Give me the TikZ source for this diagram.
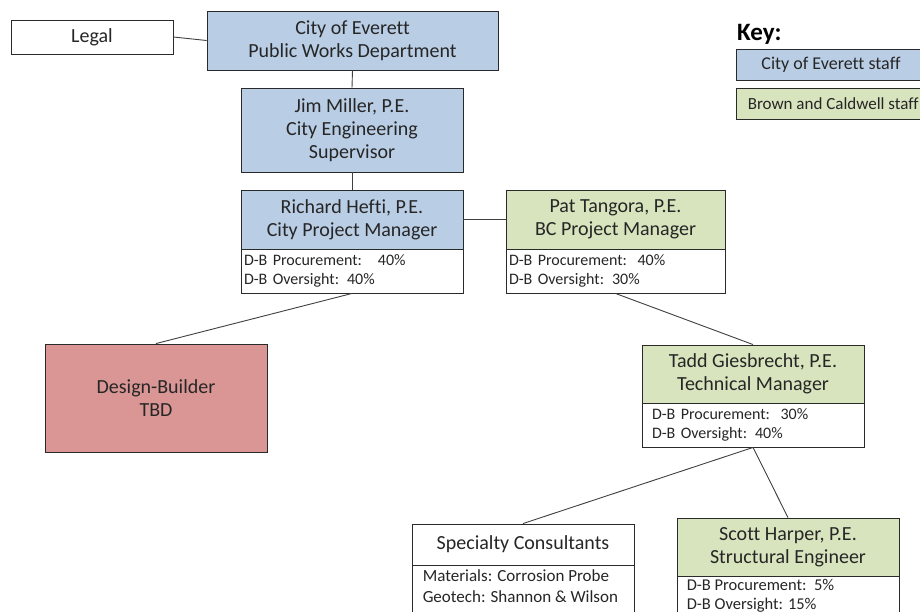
\documentclass[tikz,border=0pt]{standalone}
\usepackage{fontspec}
\setmainfont[Ligatures=NoCommon]{Carlito}
\definecolor{cityblue}{HTML}{B9CDE5}
\definecolor{bcgreen}{HTML}{D7E4BD}
\definecolor{dbred}{HTML}{D99694}
\definecolor{edgec}{HTML}{2A2A2A}
\definecolor{txt}{HTML}{262626}
\begin{document}
\begin{tikzpicture}[x=1pt,y=-1pt,
  box/.style={draw=edgec, line width=0.9pt, rectangle, inner sep=0pt, align=center,
    font=\fontsize{20}{23}\selectfont, text=txt},
  subbox/.style={draw=edgec, line width=0.9pt, rectangle, inner ysep=0pt, align=left,
    font=\fontsize{16}{19.5}\selectfont, text=txt, fill=white},
  plain/.style={draw=edgec, line width=0.9pt, rectangle, fill=white, inner sep=0pt},
  link/.style={draw=black!75, line width=0.9pt}]
\useasboundingbox (0,0) rectangle (920,612);
\clip (0,0) rectangle (920,612);
\fill[white] (0,0) rectangle (920,612);

% top
\node[box, fill=white, minimum width=162pt, minimum height=34pt] (legal) at (92,37) {Legal};
\node[box, fill=cityblue, minimum width=291pt, minimum height=59pt] (pw) at (352.5,40.5) {City of Everett\\Public Works Department};
\node[box, fill=cityblue, minimum width=222pt, minimum height=84pt] (jim) at (352,130) {Jim Miller, P.E.\\City Engineering\\Supervisor};

% managers
\node[box, fill=cityblue, minimum width=222pt, minimum height=59pt] (rh) at (352,219.5) {Richard Hefti, P.E.\\City Project Manager};
\node[subbox, inner xsep=3pt, text width=216pt, minimum height=44pt] (rhsub) at (352,271) {D-B Procurement:\ \ \ 40\%\\D-B Oversight: 40\%};
\node[box, fill=bcgreen, minimum width=219pt, minimum height=59pt] (pat) at (615.5,219.5) {Pat Tangora, P.E.\\BC Project Manager};
\node[subbox, inner xsep=3pt, text width=213pt, minimum height=44pt] (patsub) at (615.5,271) {D-B Procurement:\ \ 40\%\\D-B Oversight: 30\%};

% design builder
\node[box, fill=dbred, minimum width=222pt, minimum height=108pt] (db) at (156,398) {Design-Builder\\TBD};

% technical manager
\node[box, fill=bcgreen, minimum width=222pt, minimum height=58pt] (tadd) at (753,374) {Tadd Giesbrecht, P.E.\\Technical Manager};
\node[subbox, inner xsep=10pt, text width=202pt, minimum height=44pt] (taddsub) at (753,425) {D-B Procurement:\ \ 30\%\\D-B Oversight: 40\%};

% specialty consultants
\node[box, fill=white, minimum width=222pt, minimum height=41pt] (sp) at (523,544.5) {Specialty Consultants};
\node[plain, minimum width=222pt, minimum height=75pt] (spsub) at (523,602.5) {};
\node[anchor=north west, inner sep=0pt, align=left, text=txt, font=\fontsize{17}{21}\selectfont] (sptext) at ([xshift=11pt,yshift=-5pt]spsub.north west) {Materials: Corrosion Probe\\Geotech: Shannon \& Wilson};

% structural engineer
\node[box, fill=bcgreen, minimum width=222pt, minimum height=58pt] (scott) at (788,547) {Scott Harper, P.E.\\Structural Engineer};
\node[plain, minimum width=222pt, minimum height=75pt] (scottsub) at (788,613.5) {};
\node[anchor=north west, inner sep=0pt, align=left, text=txt, font=\fontsize{16.5}{19.5}\selectfont] (scotttext) at ([xshift=10pt,yshift=-3pt]scottsub.north west) {D-B Procurement:\ \ 5\%\\D-B Oversight: 15\%};

% key
\node[anchor=west, inner sep=0pt, font=\bfseries\fontsize{25}{28}\selectfont, text=black] (keylbl) at (737,34) {Key:};
\node[box, fill=cityblue, minimum width=190pt, minimum height=31pt, font=\fontsize{18}{20}\selectfont] (key1) at (831,64.5) {City of Everett staff};
\node[box, fill=bcgreen, minimum width=190pt, minimum height=31pt] (key2) at (831,103.5) {};
\node[anchor=west, inner sep=0pt, text=txt, font=\fontsize{17}{20}\selectfont] (key2text) at ([xshift=12pt]key2.west) {Brown and Caldwell staff};

% connectors
\draw[link] (legal.east) -- (pw.west);
\draw[link] (pw.south) -- (jim.north);
\draw[link] (jim.south) -- (rh.north);
\draw[link] (rh.east) -- (pat.west);
\draw[link] (rhsub.south) -- (db.north);
\draw[link] (patsub.south) -- (tadd.north);
\draw[link] (taddsub.south) -- (sp.north);
\draw[link] (taddsub.south) -- (scott.north);
\end{tikzpicture}
\end{document}
